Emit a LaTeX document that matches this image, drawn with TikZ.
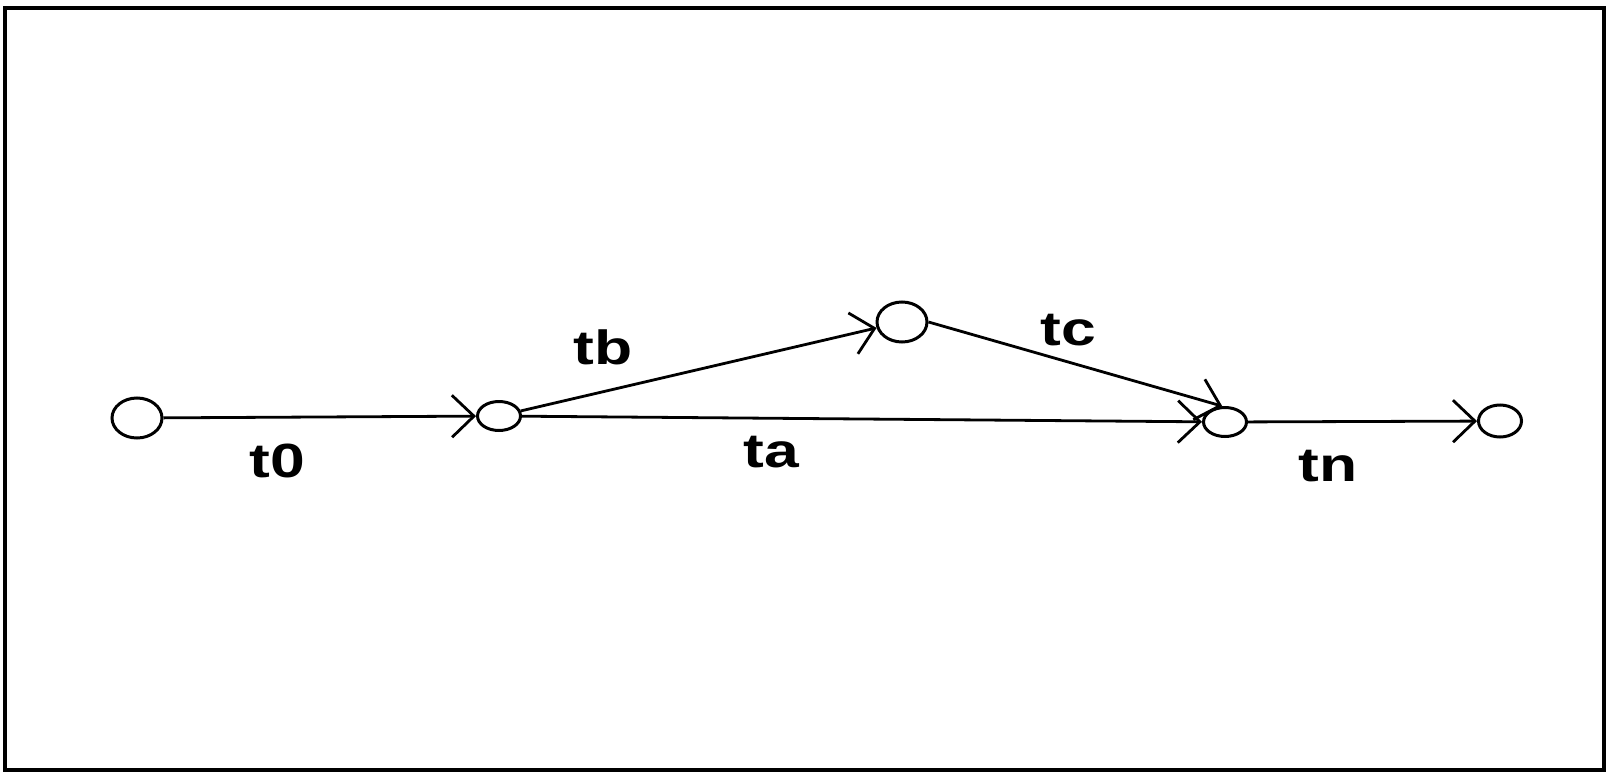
\documentclass[tikz,border=0pt]{standalone}
\usepackage{fontspec}
\setsansfont{Liberation Sans}
\usetikzlibrary{shapes.geometric,arrows.meta}
\tikzset{
  state/.style={draw, ellipse, line width=3pt, inner sep=0pt},
  big/.style={state, minimum width=50pt, minimum height=40pt},
  small/.style={state, minimum width=43pt, minimum height=29pt},
  trans/.style={line width=2.8pt, -{Straight Barb[length=22pt,width=42pt,line width=2.8pt]}},
  lbl/.style={font=\sffamily\bfseries\fontsize{48}{52}\selectfont, inner sep=0pt, xscale=1.3, transform shape}
}
\begin{document}
\begin{tikzpicture}[x=1pt,y=-1pt]
\useasboundingbox (0,0) rectangle (1611,773);
\draw[line width=4pt] (5,8) rectangle (1604,770);
\node[big]   (n1) at (137,418) {};
\node[small] (n2) at (499,416) {};
\node[big]   (n3) at (902,322) {};
\node[small] (n4) at (1225,422) {};
\node[small, minimum height=32pt] (n5) at (1500,421) {};
\draw[trans] (n1) -- (n2);
\draw[trans] (n2) -- (n3);
\draw[trans] (n2) -- (n4);
\draw[trans] (n3.east) -- (n4.100);
\draw[trans] (n4) -- (n5);
\node[lbl] (l0) at (277,461) {t0};
\node[lbl] (lb) at (603,347) {tb};
\node[lbl] (la) at (771,452) {ta};
\node[lbl] (lc) at (1068,330) {tc};
\node[lbl] (ln) at (1328,466) {tn};
\end{tikzpicture}
\end{document}
